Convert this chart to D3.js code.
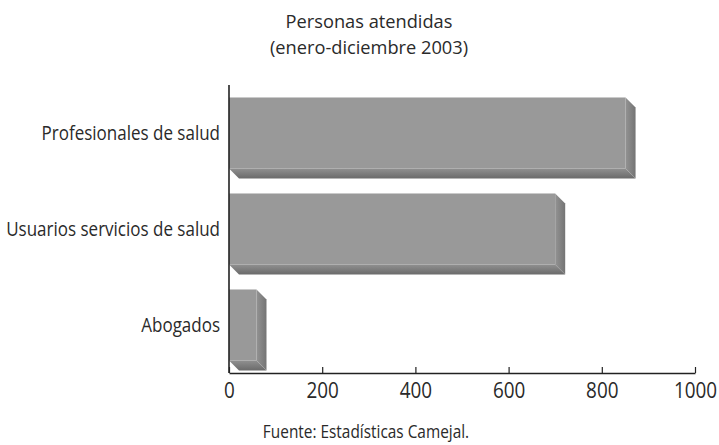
<!DOCTYPE html>
<html>
<head>
<meta charset="utf-8">
<script src="https://cdn.jsdelivr.net/npm/d3@7"></script>
<style>
  html, body { margin: 0; padding: 0; background: #fff; }
  svg text { font-family: "Open Sans", sans-serif; fill: #2a2a2a; }
</style>
</head>
<body>
<svg id="chart" width="719" height="445"></svg>
<script>
// Personas atendidas por categoría, enero–diciembre 2003
const categories = ["Profesionales de salud", "Usuarios servicios de salud", "Abogados"];
const values = [851, 700, 59];
const xTicks = [0, 200, 400, 600, 800, 1000];
const titleLines = ["Personas atendidas", "(enero-diciembre 2003)"];
const sourceNote = "Fuente: Estadísticas Camejal.";

const svg = d3.select("#chart");
const margin = { left: 229, right: 24, top: 85, bottom: 72 };
const W = 719, H = 445;
const depth = 10; // oblique offset of the 3D bars

// narrow the type horizontally, keeping each text's anchor in place
function condense(sel, k) {
  sel.each(function () {
    const t = d3.select(this);
    const x0 = +t.attr("x") || 0, y0 = +t.attr("y") || 0;
    t.attr("x", 0).attr("y", 0)
      .attr("transform", `translate(${x0},${y0}) scale(${k},1)`);
  });
}

const x = d3.scaleLinear().domain([0, 1000]).range([margin.left, W - margin.right]);
const y = d3.scaleBand().domain(categories).range([margin.top, H - margin.bottom])
  .paddingInner(0.26).paddingOuter(0.13);

const defs = svg.append("defs");
const side = defs.append("linearGradient").attr("id", "sideGrad")
  .attr("x1", "0").attr("y1", "0").attr("x2", "1").attr("y2", "0");
side.append("stop").attr("offset", "0%").attr("stop-color", "#939393");
side.append("stop").attr("offset", "100%").attr("stop-color", "#747474");
const bottom = defs.append("linearGradient").attr("id", "bottomGrad")
  .attr("x1", "0").attr("y1", "0").attr("x2", "0").attr("y2", "1");
bottom.append("stop").attr("offset", "0%").attr("stop-color", "#909090");
bottom.append("stop").attr("offset", "100%").attr("stop-color", "#6a6a6a");

const data = categories.map((c, i) => ({ cat: c, val: values[i] }));
const bars = svg.append("g").selectAll("g").data(data).join("g");

// bottom face
bars.append("path")
  .attr("d", d => {
    const x0 = x(0), x1 = x(d.val), yb = y(d.cat) + y.bandwidth();
    return `M${x0},${yb}L${x1},${yb}L${x1 + depth},${yb + depth}L${x0 + depth},${yb + depth}Z`;
  })
  .attr("fill", "url(#bottomGrad)");
// right face
bars.append("path")
  .attr("d", d => {
    const x1 = x(d.val), yt = y(d.cat), yb = yt + y.bandwidth();
    return `M${x1},${yt}L${x1 + depth},${yt + depth}L${x1 + depth},${yb + depth}L${x1},${yb}Z`;
  })
  .attr("fill", "url(#sideGrad)");
// front face
bars.append("rect")
  .attr("x", x(0))
  .attr("y", d => y(d.cat))
  .attr("width", d => x(d.val) - x(0))
  .attr("height", y.bandwidth())
  .attr("fill", "#999999");

// value axis
const xAxis = svg.append("g")
  .attr("transform", `translate(0,${H - margin.bottom})`)
  .call(d3.axisBottom(x).tickValues(xTicks).tickSizeInner(-6).tickSizeOuter(0).tickPadding(0).tickFormat(d3.format("d")));
xAxis.select(".domain").attr("stroke", "#222").attr("stroke-width", 1.3);
xAxis.selectAll(".tick line").attr("stroke", "#222").attr("stroke-width", 1.2);
xAxis.selectAll(".tick text").attr("font-size", 21).attr("dy", null).attr("y", 24.5);
condense(xAxis.selectAll(".tick text"), 0.9);

// category axis
const yAxis = svg.append("g")
  .attr("transform", `translate(${margin.left},0)`)
  .call(d3.axisLeft(y).tickSize(0).tickPadding(9));
yAxis.select(".domain").attr("stroke", "#222").attr("stroke-width", 1.6)
  .attr("d", `M0,${margin.top}V${H - margin.bottom}`);
yAxis.selectAll(".tick text").attr("font-size", 20).attr("dy", "0.36em");
condense(yAxis.selectAll(".tick text"), 0.85);

// title
const title = svg.append("g").selectAll("text").data(titleLines).join("text")
  .attr("x", 369).attr("y", (d, i) => 27.5 + i * 26)
  .attr("text-anchor", "middle").attr("font-size", 19)
  .text(d => d);
condense(title, 0.96);

// source note
const note = svg.append("text")
  .attr("x", 366).attr("y", 438)
  .attr("text-anchor", "middle").attr("font-size", 17.5)
  .attr("fill", "#333")
  .text(sourceNote);
condense(note, 0.88);
</script>
</body>
</html>
